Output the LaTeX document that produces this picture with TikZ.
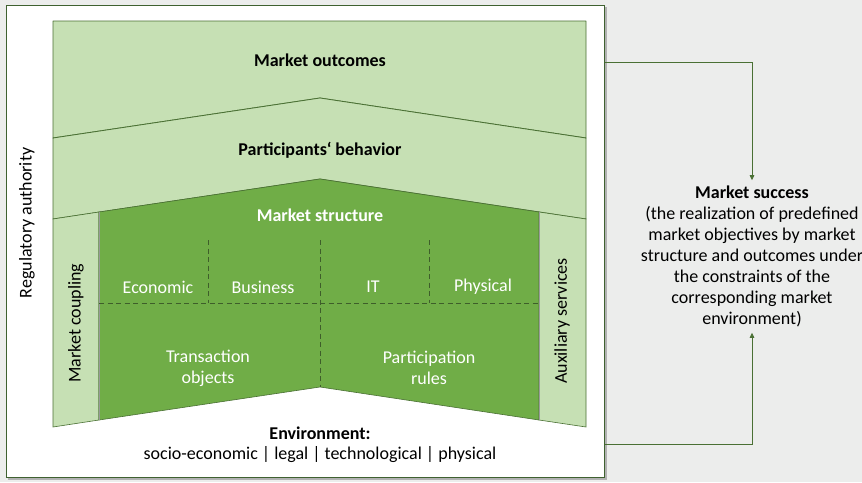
\documentclass[tikz,border=0pt]{standalone}
\usepackage{fontspec}
\setmainfont{Carlito}
\usetikzlibrary{arrows.meta}
\definecolor{bggray}{HTML}{ECEDEC}
\definecolor{lightg}{HTML}{C6E0B4}
\definecolor{darkg}{HTML}{70AD47}
\definecolor{edgeg}{HTML}{4A7034}
\definecolor{frameg}{HTML}{3F6130}
\definecolor{dashg}{HTML}{3E5E2A}
\tikzset{
  band/.style={fill=lightg, draw=edgeg, line width=0.8pt, line join=round},
  core/.style={fill=darkg, draw=edgeg, line width=0.6pt, line join=round},
  strip/.style={fill=lightg, draw=edgeg, line width=0.6pt},
  divider/.style={draw=dashg, line width=0.9pt, dash pattern=on 5pt off 3.5pt},
  lbl/.style={font=\fontsize{18}{21}\selectfont, text=black, inner sep=0pt, align=center},
  blbl/.style={lbl, font=\fontsize{18}{21}\selectfont\bfseries},
  wlbl/.style={lbl, text=white},
  conn/.style={draw=edgeg, line width=0.8pt},
  tip/.style={-{Triangle[length=5pt,width=4.5pt]}}
}
\begin{document}
\begin{tikzpicture}[x=1pt,y=-1pt]
\useasboundingbox (0,0) rectangle (862,482);
\fill[bggray] (0,0) rectangle (862,482);
% frame with shadow
\fill[black!30] (8,7) rectangle (607,480);
\node[draw=frameg, fill=white, line width=1.4pt, minimum width=598pt, minimum height=472pt, inner sep=0pt, anchor=north west] (frame) at (6,5) {};
% bands
\draw[band] (53,21) -- (586,21) -- (586,138) -- (320,98) -- (53,138) -- cycle;
\draw[band] (53,138) -- (320,98) -- (586,138) -- (586,219) -- (320,179) -- (53,219) -- cycle;
\draw[strip] (53,219) -- (99,212) -- (99,420) -- (53,427) -- cycle;
\draw[strip] (539,212) -- (586,219) -- (586,427) -- (539,420) -- cycle;
\draw[core] (99,212) -- (320,179) -- (539,212) -- (539,420) -- (320,387) -- (99,420) -- cycle;
\draw[black!40, line width=0.6pt] (99,212) -- (99,420);
\draw[black!40, line width=0.6pt] (539,212) -- (539,420);
% dividers
\draw[divider] (208,240) -- (208,303);
\draw[divider] (429,240) -- (429,303);
\draw[divider] (320,240) -- (320,387);
\draw[divider] (99,303) -- (539,303);
% labels
\node[blbl] (outcomes) at (320,60) {Market outcomes};
\node[blbl] (behavior) at (320,150) {Participants‘ behavior};
\node[blbl, text=white] (structure) at (320,215) {Market structure};
\node[wlbl] (economic) at (158,287) {Economic};
\node[wlbl] (business) at (263,287) {Business};
\node[wlbl] (it) at (373,287) {IT};
\node[wlbl] (physical) at (483,287) {Physical};
\node[wlbl] (transaction) at (208,368) {Transaction\\objects};
\node[wlbl] (participation) at (429,368) {Participation\\rules};
\node[lbl, rotate=90] (regulatory) at (27,223) {Regulatory authority};
\node[lbl, rotate=90] (coupling) at (76,323) {Market coupling};
\node[lbl, rotate=90] (auxiliary) at (562,321) {Auxiliary services};
\node[blbl] (environment) at (320,433) {Environment:};
\node[lbl] (envlist) at (320,455) {socio-economic | legal | technological | physical};
\node[lbl] (success) at (752,256) {\textbf{Market success}\\(the realization of predefined\\market objectives by market\\structure and outcomes under\\the constraints of the\\corresponding market\\environment)};
% connectors
\coordinate (topstart) at (frame.east |- 0,62);
\coordinate (botstart) at (frame.east |- 0,444);
\draw[conn, tip] (topstart) -| ([yshift=5pt]success.north);
\draw[conn, tip] (botstart) -| ([yshift=-6pt]success.south);
\end{tikzpicture}
\end{document}
